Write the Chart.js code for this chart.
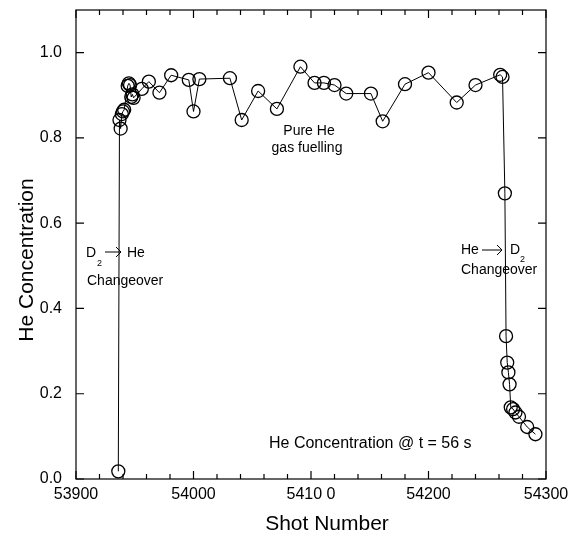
<!DOCTYPE html>
<html>
<head>
<meta charset="utf-8">
<script src="https://cdn.jsdelivr.net/npm/chart.js@4.4.0/dist/chart.umd.min.js"></script>
<style>
  body { margin: 0; background: #fff; }
</style>
</head>
<body>
<canvas id="myChart" width="577" height="538"></canvas>
<script>
const shotNumbers = [
  53936, 53937, 53938, 53939, 53940, 53941, 53944, 53945, 53946, 53947,
  53948, 53949, 53956, 53962, 53971, 53981, 53996, 54000, 54005, 54031,
  54041, 54055, 54071, 54091, 54103, 54111, 54120, 54130, 54151, 54161,
  54180, 54200, 54224, 54240, 54261, 54263, 54265, 54266, 54267, 54268,
  54269, 54270, 54272, 54274, 54277, 54284, 54291,
];
const heConcentration = [
  0.018, 0.842, 0.822, 0.856, 0.862, 0.866, 0.922, 0.928, 0.924, 0.896,
  0.902, 0.894, 0.915, 0.932, 0.906, 0.947, 0.936, 0.862, 0.938, 0.940,
  0.842, 0.910, 0.868, 0.967, 0.929, 0.929, 0.924, 0.904, 0.904, 0.839,
  0.926, 0.953, 0.883, 0.924, 0.948, 0.943, 0.670, 0.335, 0.273, 0.250,
  0.222, 0.168, 0.164, 0.156, 0.146, 0.122, 0.105,
];
const xTickValues = [53900, 54000, 54100, 54200, 54300];
const xTickLabels = ["53900", "54000", "5410 0", "54200", "54300"];
const yTickValues = [0, 0.2, 0.4, 0.6, 0.8, 1.0];

const FONT = "'Liberation Sans', Arial, sans-serif";

// inward ticks and the closed box round the plot
const framePlugin = {
  id: "frame",
  afterDraw(chart) {
    const { ctx, chartArea: a } = chart;
    const x = chart.scales.x;
    const y = chart.scales.y;
    ctx.save();
    ctx.strokeStyle = "#000";
    ctx.lineWidth = 1.2;
    ctx.strokeRect(a.left, a.top, a.right - a.left, a.bottom - a.top);
    ctx.beginPath();
    for (let s = x.min; s <= x.max; s += 20) {
      const px = x.getPixelForValue(s);
      const len = s % 100 === 0 ? 8 : 5;
      ctx.moveTo(px, a.bottom);
      ctx.lineTo(px, a.bottom - len);
      ctx.moveTo(px, a.top);
      ctx.lineTo(px, a.top + len);
    }
    yTickValues.forEach((v) => {
      const py = y.getPixelForValue(v);
      ctx.moveTo(a.left, py);
      ctx.lineTo(a.left + 8, py);
      ctx.moveTo(a.right, py);
      ctx.lineTo(a.right - 8, py);
    });
    ctx.stroke();
    ctx.restore();
  },
};

function arrow(ctx, x1, x2, yy) {
  ctx.beginPath();
  ctx.moveTo(x1, yy);
  ctx.lineTo(x2, yy);
  ctx.moveTo(x2 - 5, yy - 5);
  ctx.lineTo(x2, yy);
  ctx.lineTo(x2 - 5, yy + 5);
  ctx.stroke();
}

const textPlugin = {
  id: "texts",
  afterDraw(chart) {
    const ctx = chart.ctx;
    ctx.save();
    ctx.fillStyle = "#000";
    ctx.strokeStyle = "#000";
    ctx.lineWidth = 1;
    ctx.textBaseline = "alphabetic";

    // axis titles
    ctx.font = "21px " + FONT;
    ctx.textAlign = "center";
    ctx.fillText("Shot Number", 327, 530);
    ctx.save();
    ctx.translate(33, 260);
    ctx.rotate(-Math.PI / 2);
    ctx.fillText("He Concentration", 0, 0);
    ctx.restore();

    // annotations
    ctx.font = "14px " + FONT;
    ctx.textAlign = "center";
    ctx.fillText("Pure He", 309, 135);
    ctx.fillText("gas fuelling", 307, 152);

    ctx.textAlign = "left";
    ctx.fillText("D", 86, 257);
    ctx.fillText("He", 127, 257);
    ctx.fillText("Changeover", 87, 285);
    arrow(ctx, 105, 121, 252);

    ctx.fillText("He", 461, 254);
    ctx.fillText("D", 510, 254);
    ctx.fillText("Changeover", 461, 274);
    arrow(ctx, 482, 502, 250);

    ctx.font = "9px " + FONT;
    ctx.fillText("2", 97, 266);
    ctx.fillText("2", 520, 262);

    ctx.font = "16px " + FONT;
    ctx.fillText("He Concentration @ t = 56 s", 269, 448);
    ctx.restore();
  },
};

const points = shotNumbers.map((s, i) => ({ x: s, y: heConcentration[i] }));

const chart = new Chart(document.getElementById("myChart"), {
  type: "scatter",
  data: {
    datasets: [
      {
        data: points,
        showLine: true,
        borderColor: "#000",
        borderWidth: 1,
        tension: 0,
        pointStyle: "circle",
        pointRadius: 6.5,
        pointBorderWidth: 1.3,
        pointBorderColor: "#000",
        pointBackgroundColor: "rgba(0,0,0,0)",
      },
    ],
  },
  options: {
    responsive: false,
    animation: false,
    layout: { padding: { top: 10, right: 31, left: 0, bottom: 0 } },
    scales: {
      x: {
        type: "linear",
        min: 53900,
        max: 54300,
        afterFit: (scale) => {
          scale.height = 59;
          scale.paddingLeft = 0;
          scale.paddingRight = 0;
        },
        grid: { display: false, drawTicks: false },
        border: { display: false },
        ticks: {
          stepSize: 100,
          autoSkip: false,
          maxRotation: 0,
          padding: 6,
          color: "#000",
          font: { family: FONT, size: 16 },
          callback: (v) => {
            const i = xTickValues.indexOf(v);
            return i >= 0 ? xTickLabels[i] : "";
          },
        },
      },
      y: {
        type: "linear",
        min: 0,
        max: 1.1,
        afterFit: (scale) => {
          scale.width = 76;
          scale.paddingTop = 0;
          scale.paddingBottom = 0;
        },
        grid: { display: false, drawTicks: false },
        border: { display: false },
        ticks: {
          stepSize: 0.2,
          includeBounds: false,
          padding: 14,
          color: "#000",
          font: { family: FONT, size: 16 },
          callback: (v) => v.toFixed(1),
        },
      },
    },
    plugins: {
      legend: { display: false },
      tooltip: { enabled: false },
    },
  },
  plugins: [framePlugin, textPlugin],
});
</script>
</body>
</html>
